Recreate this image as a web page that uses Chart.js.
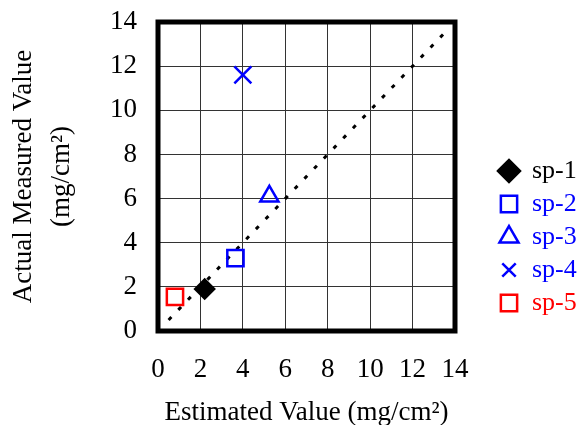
<!DOCTYPE html>
<html>
<head>
<meta charset="utf-8">
<script src="https://cdn.jsdelivr.net/npm/chart.js@4.4.1/dist/chart.umd.min.js"></script>
<style>
  html, body { margin: 0; padding: 0; background: #fff; }
  #wrap { width: 581px; height: 425px; }
</style>
</head>
<body>
<div id="wrap"><canvas id="myChart"></canvas></div>
<script>
// Samples and their estimated / measured values (mg/cm2)
const samples = ['sp-1', 'sp-2', 'sp-3', 'sp-4', 'sp-5'];
const estimated = [2.2, 3.65, 5.25, 4.0, 0.8];
const measured = [1.9, 3.3, 6.1, 11.6, 1.55];

// 1:1 reference line ends
const refX = [0.5, 13.6];
const refY = [0.5, 13.6];

// Axis ticks
const tickValues = [0, 2, 4, 6, 8, 10, 12, 14];

Chart.defaults.font.family = "'Liberation Serif', 'Times New Roman', serif";
Chart.defaults.font.size = 27;
Chart.defaults.color = '#000';

// marker look per sample
const markerStyles = [
    { pointStyle: 'rectRot', radius: 9.5, color: '#000000', fill: '#000000' },
    { pointStyle: 'rect', radius: 11.5, color: '#0000FF', fill: 'rgba(0,0,0,0)' },
    { pointStyle: 'triangle', radius: 10.5, color: '#0000FF', fill: 'rgba(0,0,0,0)' },
    { pointStyle: 'crossRot', radius: 12, color: '#0000FF', fill: 'rgba(0,0,0,0)' },
    { pointStyle: 'rect', radius: 11.5, color: '#FF0000', fill: 'rgba(0,0,0,0)' }
];

const datasets = samples.map((name, i) => ({
    label: name,
    data: [{ x: estimated[i], y: measured[i] }],
    pointStyle: markerStyles[i].pointStyle,
    pointRadius: markerStyles[i].radius,
    pointHoverRadius: markerStyles[i].radius,
    borderColor: markerStyles[i].color,
    backgroundColor: markerStyles[i].fill,
    pointBorderWidth: 2.5,
    showLine: false,
    order: 0
}));

datasets.push({
    label: '1:1',
    data: refX.map((x, i) => ({ x: x, y: refY[i] })),
    showLine: true,
    borderColor: '#000',
    borderWidth: 3,
    borderDash: [4, 10],
    pointRadius: 0,
    fill: false,
    order: 1
});

// thick frame round the plot area
const framePlugin = {
    id: 'frame',
    beforeDatasetsDraw(chart) {
        const a = chart.chartArea;
        const ctx = chart.ctx;
        ctx.save();
        ctx.strokeStyle = '#000';
        ctx.lineWidth = 5;
        ctx.strokeRect(a.left, a.top, a.right - a.left, a.bottom - a.top);
        ctx.restore();
    }
};

// legend on the right, text coloured like the marker
const legendPlugin = {
    id: 'sideLegend',
    afterDraw(chart) {
        const ctx = chart.ctx;
        const x0 = 509, y0 = 171, step = 33;
        const legendRadius = [11, 11.5, 11, 9.5, 11.5];
        ctx.save();
        samples.forEach((name, i) => {
            const y = y0 + i * step;
            const st = markerStyles[i];
            ctx.strokeStyle = st.color;
            ctx.fillStyle = st.fill;
            ctx.lineWidth = 2.5;
            Chart.helpers.drawPoint(ctx, {
                pointStyle: st.pointStyle,
                radius: legendRadius[i],
                rotation: 0,
                borderWidth: 2.5
            }, x0, y);
            ctx.fillStyle = st.color;
            ctx.font = "26px 'Liberation Serif', 'Times New Roman', serif";
            ctx.textAlign = 'left';
            ctx.textBaseline = 'middle';
            ctx.fillText(name, 532, y);
        });
        ctx.restore();
    }
};

const ctx = document.getElementById('myChart').getContext('2d');

new Chart(ctx, {
    type: 'scatter',
    data: { datasets: datasets },
    options: {
        responsive: true,
        maintainAspectRatio: false,
        animation: false,
        layout: {
            padding: { top: 22, right: 126, left: 0, bottom: 0 }
        },
        plugins: {
            legend: { display: false },
            tooltip: { enabled: false }
        },
        scales: {
            x: {
                type: 'linear',
                min: 0,
                max: 14,
                afterFit(scale) {
                    scale.height = 94;
                    scale.paddingLeft = 0;
                    scale.paddingRight = 0;
                },
                afterBuildTicks(scale) { scale.ticks = tickValues.map(v => ({ value: v })); },
                ticks: { padding: 23, color: '#000', font: { size: 27 } },
                grid: { color: '#333', lineWidth: 1, drawTicks: false },
                border: { display: false },
                title: {
                    display: true,
                    text: 'Estimated Value (mg/cm²)',
                    color: '#000',
                    font: { size: 27, lineHeight: 0.9 },
                    padding: { top: 0, bottom: 0 }
                }
            },
            y: {
                type: 'linear',
                min: 0,
                max: 14,
                afterFit(scale) {
                    scale.width = 158;
                    scale.paddingTop = 0;
                    scale.paddingBottom = 0;
                },
                afterBuildTicks(scale) { scale.ticks = tickValues.map(v => ({ value: v })); },
                ticks: { padding: 21, color: '#000', font: { size: 27 } },
                grid: { color: '#333', lineWidth: 1, drawTicks: false },
                border: { display: false },
                title: {
                    display: true,
                    text: ['Actual Measured Value', '(mg/cm²)'],
                    color: '#000',
                    font: { size: 27, lineHeight: 1.4 },
                    padding: { top: 5, bottom: 0 }
                }
            }
        }
    },
    plugins: [framePlugin, legendPlugin]
});
</script>
</body>
</html>
